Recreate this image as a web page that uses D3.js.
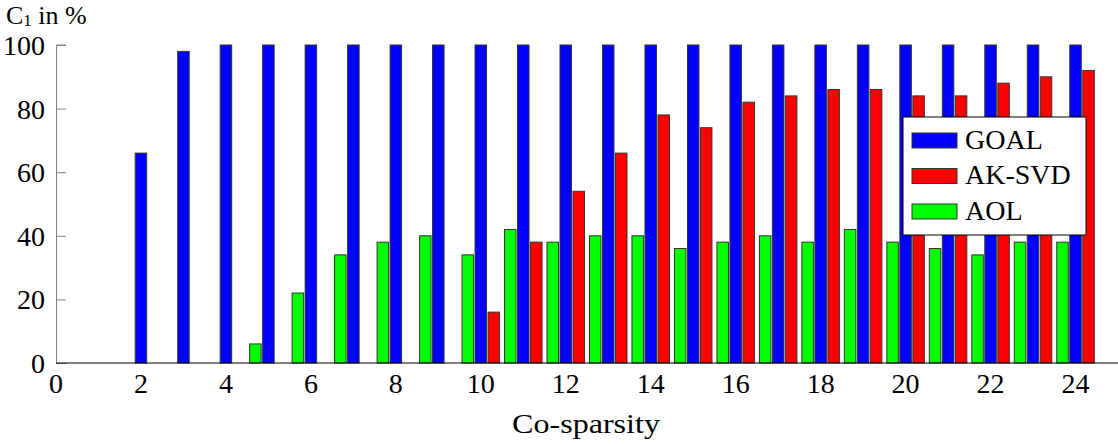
<!DOCTYPE html>
<html>
<head>
<meta charset="utf-8">
<script src="https://cdn.jsdelivr.net/npm/d3@7"></script>
<style>
  body { margin: 0; background: #fff; }
  svg { display: block; font-family: "Liberation Serif", "DejaVu Serif", serif; }
</style>
</head>
<body>
<div id="chart"></div>
<script>
// data
const xs = d3.range(2, 25);
const goal  = [66, 98, 100, 100, 100, 100, 100, 100, 100, 100, 100, 100, 100, 100, 100, 100, 100, 100, 100, 100, 100, 100, 100];
const aksvd = [0, 0, 0, 0, 0, 0, 0, 0, 16, 38, 54, 66, 78, 74, 82, 84, 86, 86, 84, 84, 88, 90, 92];
const aol   = [0, 0, 0, 6, 22, 34, 38, 40, 34, 42, 38, 40, 40, 36, 38, 40, 38, 42, 38, 36, 34, 38, 38];
const xTicks = d3.range(0, 25, 2);
const yTicks = [0, 20, 40, 60, 80, 100];

const series = [
  { name: "GOAL",   values: goal,  color: "#0000ff", shift: 0 },
  { name: "AK-SVD", values: aksvd, color: "#ff0000", shift: 1 },
  { name: "AOL",    values: aol,   color: "#00ff00", shift: -1 }
];

const width = 1118, height = 444;
const margin = { top: 45, left: 56, bottom: 81, right: 0 };
const fs = 28;

const svg = d3.select("#chart").append("svg")
  .attr("width", width).attr("height", height);

const x = d3.scaleLinear().domain([0, 25]).range([margin.left, width - margin.right]);
const y = d3.scaleLinear().domain([0, 100]).range([height - margin.bottom, margin.top]);

const barW = 11.5;
const step = 13;

// bars
series.forEach(s => {
  svg.append("g").selectAll("rect")
    .data(xs.map((v, i) => ({ x: v, y: s.values[i] })).filter(d => d.y > 0))
    .join("rect")
    .attr("x", d => x(d.x) + s.shift * step - barW / 2)
    .attr("y", d => y(d.y))
    .attr("width", barW)
    .attr("height", d => y(0) - y(d.y))
    .attr("fill", s.color)
    .attr("stroke", "#333")
    .attr("stroke-width", 1);
});

// y axis (gray, ticks pointing inward)
const yAxis = svg.append("g")
  .attr("transform", `translate(${margin.left},0)`)
  .call(d3.axisRight(y).tickValues(yTicks).tickSize(10).tickFormat(""));
yAxis.select(".domain").attr("stroke", "#808080").attr("d", `M10,${y(100)}H0.5V${y(0)}`);
yAxis.selectAll(".tick line").attr("stroke", "#808080");

svg.append("g").selectAll("text")
  .data(yTicks)
  .join("text")
  .attr("x", margin.left - 11)
  .attr("y", d => y(d) + 10)
  .attr("text-anchor", "end")
  .attr("font-size", fs)
  .text(d => d);

// x axis
svg.append("line")
  .attr("x1", margin.left).attr("x2", width)
  .attr("y1", y(0)).attr("y2", y(0))
  .attr("stroke", "#000").attr("stroke-width", 1.2);

svg.append("g").selectAll("text")
  .data(xTicks)
  .join("text")
  .attr("x", d => x(d))
  .attr("y", y(0) + 30)
  .attr("text-anchor", "middle")
  .attr("font-size", fs)
  .text(d => d);

// axis labels
svg.append("text")
  .attr("x", 512)
  .attr("y", 433)
  .attr("font-size", fs)
  .attr("textLength", 148)
  .attr("lengthAdjust", "spacingAndGlyphs")
  .text("Co-sparsity");

const yl = svg.append("text")
  .attr("x", 6)
  .attr("y", 24)
  .attr("font-size", 26);
yl.append("tspan").text("C");
yl.append("tspan").attr("font-size", 17).attr("dy", 2).text("1");
yl.append("tspan").attr("dy", -2).text(" in %");

// legend
const lg = svg.append("g").attr("transform", "translate(903,117)");
lg.append("rect")
  .attr("width", 183).attr("height", 118)
  .attr("fill", "#fff").attr("stroke", "#000").attr("stroke-width", 1);
const items = lg.selectAll("g.item")
  .data(series)
  .join("g")
  .attr("transform", (d, i) => `translate(9,${23.5 + i * 35.5})`);
items.append("rect")
  .attr("y", -7.5).attr("width", 45).attr("height", 15)
  .attr("fill", d => d.color).attr("stroke", "#333");
items.append("text")
  .attr("x", 53).attr("y", 8)
  .attr("font-size", fs)
  .text(d => d.name);
</script>
</body>
</html>
